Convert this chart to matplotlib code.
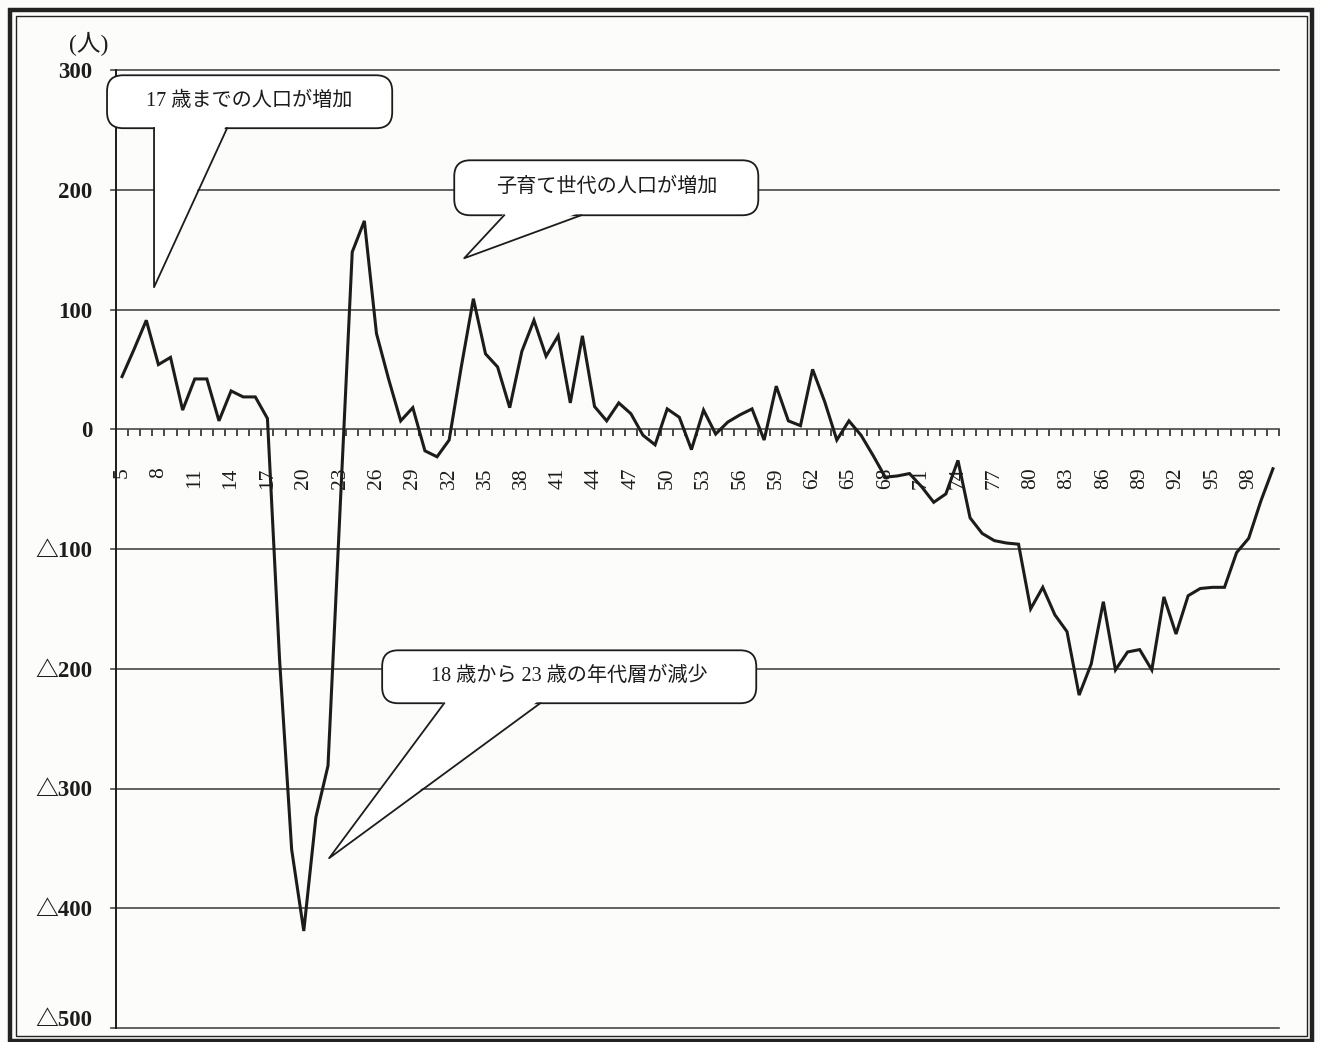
import numpy as np
import matplotlib.pyplot as plt
from matplotlib.patches import FancyBboxPatch, Polygon, Rectangle
from matplotlib.transforms import ScaledTranslation

# net population change by age (persons)
ages = np.arange(5, 101)
change = [
    44, 67, 91, 54, 60, 16, 42, 42, 7, 32, 27, 27, 9,              # 5-17
    -192, -351, -419, -324, -281, -66,                             # 18-23
    148, 174, 80, 42, 7, 18, -18, -23, -9, 52, 109, 63, 52, 18,    # 24-37
    65, 91, 61, 78, 22, 78, 19, 7, 22, 13, -5, -13, 17, 10,        # 38-51
    -17, 16, -4, 6, 12, 17, -9, 36, 7, 3, 50, 23, -9, 7, -5,       # 52-66
    -22, -40, -39, -37, -48, -61, -54, -26, -74, -87, -93, -95,    # 67-78
    -96, -150, -132, -155, -169, -222, -196, -144, -201, -186,     # 79-88
    -184, -201, -140, -171, -139, -133, -132, -132, -103, -91,     # 89-98
    -60, -33,                                                      # 99-100
]

tick_ages = list(range(5, 99, 3))
y_ticks = [300, 200, 100, 0, -100, -200, -300, -400, -500]
y_labels = ['300', '200', '100', '0', '△100', '△200', '△300', '△400', '△500']

# callouts: text, box (age left, age right, top, bottom), pointer base ages, tip (age, value)
callouts = [
    ('17 歳までの人口が増加', (3.76, 27.3, 295.6, 251.4), (7.64, 13.67), (7.64, 118.6)),
    ('子育て世代の人口が増加', (32.42, 57.52, 224.6, 178.7), (36.54, 42.9), (33.24, 142.8)),
    ('18 歳から 23 歳の年代層が減少', (26.47, 57.35, -184.6, -228.8), (31.59, 39.52), (22.09, -358.2)),
]

W, H = 1320, 1042
BG = '#fcfcfa'
INK = '#1c1c1c'
SERIF_JP = ['Liberation Serif', 'Noto Sans CJK JP']

fig = plt.figure(figsize=(W / 100, H / 100), dpi=100, facecolor=BG)
ax = fig.add_axes([116 / W, 1 - 1028 / H, (1279 - 116) / W, (1028 - 70) / H])
ax.set_facecolor(BG)
ax.set_xlim(4.5, 100.5)
ax.set_ylim(-500, 300)
ax.set_axisbelow(True)

# horizontal grid, running a little past the left spine
for v in y_ticks:
    ax.axhline(v, xmin=-5 / 1163, xmax=1, color='#474747', lw=1.2, clip_on=False, zorder=1)

ax.plot(ages, change, color=INK, lw=2.2, solid_joinstyle='miter', zorder=3)

for side in ['top', 'right']:
    ax.spines[side].set_visible(False)
ax.spines['left'].set_linewidth(1.4)
ax.spines['left'].set_color(INK)
ax.spines['bottom'].set_position(('data', 0))
ax.spines['bottom'].set_visible(False)

ax.set_yticks(y_ticks)
ax.set_yticklabels(y_labels, family=SERIF_JP, fontsize=16.5, fontweight='bold', color=INK)
ax.tick_params(axis='y', length=0, pad=17)
# bottom label sits a little above its gridline
last = ax.get_yticklabels()[-1]
last.set_transform(last.get_transform() + ScaledTranslation(0, 0.1, fig.dpi_scale_trans))

ax.set_xticks(tick_ages)
ax.set_xticklabels([str(a) for a in tick_ages], rotation=90, family='Liberation Serif',
                   fontsize=15.5, color=INK)
ax.set_xticks(np.arange(5.5, 101, 1), minor=True)
ax.tick_params(axis='x', which='major', length=0, pad=27.5)
ax.tick_params(axis='x', which='minor', length=5, width=1.3, direction='out', color='#3a3a3a')

# overlay in pixel units for the frame, unit label and callouts
ov = fig.add_axes([0, 0, 1, 1], facecolor='none')
ov.set_xlim(0, W)
ov.set_ylim(H, 0)
ov.axis('off')


def to_px(x, y):
    dx, dy = ax.transData.transform((x, y))
    return dx, H - dy


ov.add_patch(Rectangle((10, 10), W - 18, H - 11, fill=False, lw=3.2, ec='#222222'))
ov.add_patch(Rectangle((15.5, 15.5), W - 29, H - 22, fill=False, lw=1.0, ec='#222222'))

ov.text(89, 44, '(人)', family=SERIF_JP, fontsize=17, ha='center', va='center', color=INK)

for text, box, base, tip in callouts:
    x0, y0 = to_px(box[0], box[2])
    x1, y1 = to_px(box[1], box[3])
    r = 16
    ov.add_patch(FancyBboxPatch((x0 + r, y0 + r), (x1 - x0) - 2 * r, (y1 - y0) - 2 * r,
                                boxstyle=f'round,pad={r},rounding_size={r}',
                                fc='white', ec=INK, lw=1.3, zorder=5))
    bx0, by = to_px(base[0], box[3])
    bx1, _ = to_px(base[1], box[3])
    tx, ty = to_px(*tip)
    ov.add_patch(Polygon([(bx0 + 1, by - 3), (bx1 - 1, by - 3), (tx, ty)], closed=True,
                         fc='white', ec='none', zorder=6))
    ov.plot([bx0, tx, bx1], [by, ty, by], color=INK, lw=1.3, zorder=7)
    ov.text((x0 + x1) / 2, (y0 + y1) / 2, text, family=SERIF_JP, fontsize=14.5,
            ha='center', va='center', color=INK, zorder=8)

fig.savefig('out.png', dpi=100, facecolor=BG)
